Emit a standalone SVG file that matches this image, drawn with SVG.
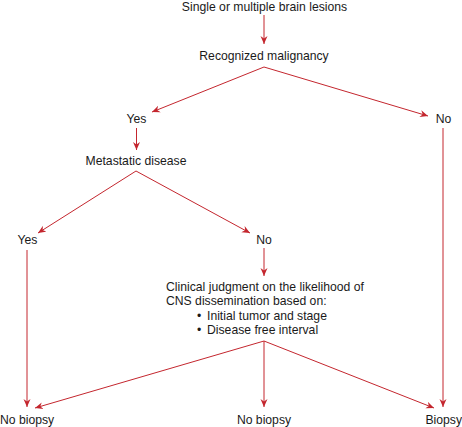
<svg xmlns="http://www.w3.org/2000/svg" width="462" height="427" viewBox="0 0 462 427">
<style>
text{font-family:"Liberation Sans",Arial,sans-serif;font-size:12.2px;fill:#1a1a1a}
.c{text-anchor:middle}
.e{text-anchor:end}
.ln{stroke:#c4262e;stroke-width:1;fill:none;marker-end:url(#ah)}
</style>
<defs>
<marker id="ah" viewBox="-8 -4 8 8" refX="0" refY="0" markerWidth="8" markerHeight="8" markerUnits="userSpaceOnUse" orient="auto">
<path d="M0,0 L-8,-3.5 L-5.5,0 L-8,3.5 Z" fill="#c4262e"/>
</marker>
</defs>
<g id="connectors">
<line class="ln" x1="264" y1="15" x2="264" y2="44"/>
<line class="ln" x1="264" y1="67" x2="152" y2="112"/>
<line class="ln" x1="264" y1="67" x2="428" y2="116"/>
<line class="ln" x1="136.5" y1="128" x2="136.5" y2="150"/>
<line class="ln" x1="443" y1="128" x2="443" y2="407"/>
<line class="ln" x1="136" y1="171" x2="38" y2="233"/>
<line class="ln" x1="136" y1="171" x2="250" y2="233"/>
<line class="ln" x1="264" y1="248" x2="264" y2="276"/>
<line class="ln" x1="27" y1="250" x2="27" y2="407"/>
<line class="ln" x1="264" y1="341" x2="35" y2="408"/>
<line class="ln" x1="264" y1="341" x2="264" y2="407"/>
<line class="ln" x1="264" y1="341" x2="434" y2="408"/>
</g>
<g id="start"><text class="c" x="264.5" y="10.5">Single or multiple brain lesions</text></g>
<g id="recognized"><text class="c" x="264" y="60">Recognized malignancy</text></g>
<g id="yes1"><text class="c" x="136.5" y="122.5">Yes</text></g>
<g id="no1"><text class="c" x="443.5" y="122.5">No</text></g>
<g id="metastatic"><text class="c" x="136" y="165">Metastatic disease</text></g>
<g id="yes2"><text class="c" x="27.5" y="244">Yes</text></g>
<g id="no2"><text class="c" x="264" y="244">No</text></g>
<g id="clinical">
<text x="166" y="291">Clinical judgment on the likelihood of</text>
<text x="166" y="305.3">CNS dissemination based on:</text>
<text x="197" y="319.6">•</text><text x="207" y="319.6">Initial tumor and stage</text>
<text x="197" y="334">•</text><text x="207" y="334">Disease free interval</text>
</g>
<g id="nobiopsy1"><text x="0" y="423.5">No biopsy</text></g>
<g id="nobiopsy2"><text class="c" x="264" y="423.5">No biopsy</text></g>
<g id="biopsy"><text class="e" x="462" y="423.5">Biopsy</text></g>
</svg>
